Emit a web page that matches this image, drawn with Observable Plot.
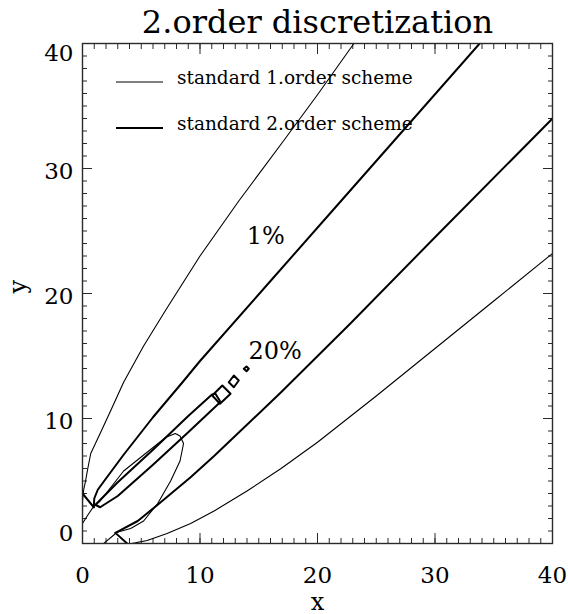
<!DOCTYPE html>
<html><head><meta charset="utf-8">
<script src="https://cdn.jsdelivr.net/npm/d3@7"></script>
<script src="https://cdn.jsdelivr.net/npm/@observablehq/plot@0.6"></script>
<style>html,body{margin:0;padding:0;background:#fff} svg text{font-family:"DejaVu Serif",serif}</style>
</head><body><div id="chart"></div>
<script>
// ---- texts ----
const title = "2.order discretization";
const xLabel = "x";
const yLabel = "y";
const legendLabels = ["standard 1.order scheme", "standard 2.order scheme"];
// ---- ticks ----
const majorTicks = [0, 10, 20, 30, 40];
const minorTicks = [0,1,2,3,4,5,6,7,8,9,10,11,12,13,14,15,16,17,18,19,20,21,22,23,24,25,26,27,28,29,30,31,32,33,34,35,36,37,38,39,40];
// ---- contour labels ----
const contourLabelText = ["1%", "20%"];
const contourLabelX = [15.6, 16.4];
const contourLabelY = [24.6, 15.4];

// ---- standard 1.order scheme (thin) ----
const first1Upper = [[0,2.0],[0,3.4],[0.1,4.3],[0.26,5.0],[0.45,6.0],[0.7,7.2],[1.5,8.8],[2.24,10.3],[3.5,12.9],[5.2,15.8],[7.1,18.7],[10,23.0],[13.3,27.4],[17.1,32.2],[20,35.9],[23.1,40]];
const first1Lower = [[3.6,-0.1],[4.5,0.05],[5.5,0.24],[7.2,0.8],[9.2,1.6],[11.2,2.6],[14,4.2],[16.9,6.0],[20,8.1],[25,11.8],[30,15.6],[35,19.4],[40,23.2]];
const first20 = [[0,1.6],[0.4,2.2],[0.9,2.9],[1.5,3.4],[3.5,5.8],[5.5,7.3],[7.1,8.5],[7.9,8.8],[8.3,8.6],[8.6,8.0],[8.3,6.6],[7.5,5.0],[6.4,3.2],[5.2,1.8],[4.1,1.2],[2.95,0.9],[1.8,0]];

// ---- standard 2.order scheme (thick) ----
const second1Upper = [[0.96,2.9],[1.0,3.6],[1.3,4.3],[2.0,5.2],[3.5,7.1],[6,10.1],[8.6,13.0],[10,14.6],[16,21.0],[22,27.4],[26.5,32.2],[33.8,40]];
const second1Lower = [[2.8,0.85],[4.7,1.8],[6.4,3.1],[9.2,5.3],[11.2,7.0],[16.9,12.1],[22.8,17.6],[30,24.5],[40,34.0]];
const second20 = [[1.1,3.1],[3,4.9],[6,7.5],[9,10.2],[11.0,11.9],[11.3,12.0],[11.7,11.4],[11.6,11.2],[9,8.9],[6,6.3],[3,3.8],[1.5,2.9],[1.1,3.1]];
const second20Island1 = [[11.04,11.84],[11.9,12.64],[12.6,11.98],[11.7,11.18],[11.04,11.84]];
const second20Island2 = [[12.45,12.9],[12.88,13.44],[13.3,13.04],[12.88,12.5],[12.45,12.9]];
const second20Island3 = [[13.73,13.98],[13.96,14.16],[14.15,13.98],[13.96,13.78],[13.73,13.98]];
const secondEdgeUpper = [[0,4.0],[0.96,2.9]];
const secondEdgeLower = [[2.8,0.85],[3.8,0]];

const thinPaths = {first1Upper, first1Lower, first20};
const thickPaths = {second1Upper, second1Lower, second20, second20Island1, second20Island2, second20Island3, secondEdgeUpper, secondEdgeLower};
const toRows = (obj) => Object.entries(obj).flatMap(([id, pts]) => pts.map(([x, y]) => ({id, x, y})));
const thinRows = toRows(thinPaths);
const thickRows = toRows(thickPaths);
const contourLabels = contourLabelText.map((t, i) => ({t, x: contourLabelX[i], y: contourLabelY[i]}));

const FONT = "DejaVu Serif";
const AX = "#2a2a2a";

function legend(index, scales, values, dims) {
  const g = d3.create("svg:g").attr("font-family", FONT).attr("font-size", 18.5).attr("fill", "black").attr("text-anchor", "start");
  const x0 = dims.marginLeft, y0 = dims.marginTop;
  legendLabels.forEach((lab, i) => {
    const yy = y0 + 39 + i * 46;
    g.append("line").attr("x1", x0 + 34).attr("x2", x0 + 81).attr("y1", yy).attr("y2", yy)
      .attr("stroke", "black").attr("stroke-width", i === 0 ? 1.1 : 2);
    g.append("text").attr("x", x0 + 95).attr("y", yy + 2).attr("text-anchor", "start").text(lab);
  });
  return g.node();
}

const sideAxis = (fn, anchor, ticks, size) => fn({anchor, ticks, tickSize: -size, tickFormat: () => "", label: null, stroke: AX, strokeWidth: 1});
const T = (data, opts) => Plot.text(data, {fontFamily: FONT, fill: "black", ...opts});

const chart = Plot.plot({
  width: 568,
  height: 614,
  marginTop: 43,
  marginLeft: 82,
  marginRight: 16,
  marginBottom: 71,
  x: {domain: [0, 40]},
  y: {domain: [0, 40]},
  style: {fontFamily: FONT, background: "white", color: "black"},
  marks: [
    sideAxis(Plot.axisX, "bottom", minorTicks, 5),
    sideAxis(Plot.axisX, "top", minorTicks, 5),
    sideAxis(Plot.axisY, "left", minorTicks, 5),
    sideAxis(Plot.axisY, "right", minorTicks, 5),
    sideAxis(Plot.axisX, "bottom", majorTicks, 10),
    sideAxis(Plot.axisX, "top", majorTicks, 10),
    sideAxis(Plot.axisY, "left", majorTicks, 10),
    sideAxis(Plot.axisY, "right", majorTicks, 10),
    Plot.line(thinRows, {x: "x", y: "y", z: "id", stroke: "black", strokeWidth: 1.1, clip: true}),
    Plot.line(thickRows, {x: "x", y: "y", z: "id", stroke: "black", strokeWidth: 2, clip: true}),
    Plot.frame({stroke: AX, strokeWidth: 1.4}),
    T(contourLabels, {x: "x", y: "y", text: "t", fontSize: 24}),
    // tick labels
    T(majorTicks, {x: d => d, frameAnchor: "bottom", lineAnchor: "top", dy: 23, fontSize: 23}),
    T(majorTicks.filter(d => d > 0 && d < 40), {y: d => d, frameAnchor: "left", textAnchor: "end", dx: -9, dy: 3, fontSize: 23}),
    T(majorTicks.filter(d => d === 40), {y: d => d, frameAnchor: "left", textAnchor: "end", dx: -9, dy: 10, fontSize: 23}),
    T(majorTicks.filter(d => d === 0), {y: d => d, frameAnchor: "left", textAnchor: "end", dx: -9, dy: -10, fontSize: 23}),
    // axis titles and title
    T([xLabel], {frameAnchor: "bottom", lineAnchor: "bottom", dy: 66, fontSize: 24}),
    T([yLabel], {frameAnchor: "left", dx: -64, rotate: -90, fontSize: 24}),
    T([title], {frameAnchor: "top", lineAnchor: "bottom", dy: -11, fontSize: 32}),
    legend
  ]
});
document.getElementById("chart").appendChild(chart);
</script>
</body></html>
